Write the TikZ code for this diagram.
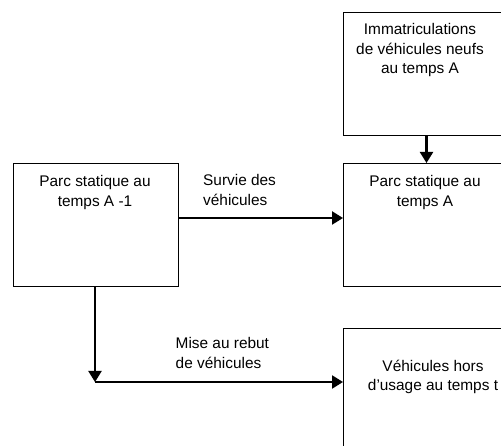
\documentclass[tikz,border=0pt]{standalone}
\usepackage{fontspec}
\setmainfont{Liberation Sans}
\usetikzlibrary{arrows.meta}
\tikzset{
  boxshape/.style={draw, line width=1.4pt, anchor=north west, inner sep=0pt},
  boxtext/.style={font=\fontsize{15.4}{19.8}\selectfont, align=center, inner sep=0pt, anchor=north},
  flowlabel/.style={font=\fontsize{15.4}{19.8}\selectfont, align=left, inner sep=0pt, anchor=north west},
  flow/.style={line width=2.2pt, -{Triangle[width=13pt,length=11pt]}}
}
\begin{document}
\begin{tikzpicture}[x=1pt,y=-1pt]
\useasboundingbox (0,0) rectangle (501,446);
\fill[white] (0,0) rectangle (501,446);
\clip (0,0) rectangle (501,446);
% boxes
\node[boxshape, minimum width=170pt, minimum height=123pt] (imm) at (343,12) {};
\node[boxshape, minimum width=165pt, minimum height=123pt] (pa1) at (13,163) {};
\node[boxshape, minimum width=170pt, minimum height=123pt] (pa) at (343,163) {};
\node[boxshape, minimum width=180pt, minimum height=140pt] (vhu) at (343,328) {};
% box texts
\node[boxtext] (timm) at ([shift={(77,11)}]imm.north west) {Immatriculations\\de véhicules neufs\\au temps A};
\node[boxtext] (tpa1) at ([shift={(82,12)}]pa1.north west) {Parc statique au\\temps A -1};
\node[boxtext] (tpa) at ([shift={(82,12)}]pa.north west) {Parc statique au\\temps A};
\node[boxtext] (tvhu) at ([shift={(90,31.5)}]vhu.north west) {Véhicules hors\\d’usage au temps t};
% connectors
\coordinate (drop) at (426.5,0);
\draw[flow] (imm.south -| drop) -- (pa.north -| drop);
\coordinate (survy) at (0,218);
\draw[flow] (pa1.east |- survy) -- (pa.west |- survy);
\coordinate (corner) at (95,382);
\draw[flow] (pa1.south -| corner) -- (corner);
\draw[flow] (corner) -- (vhu.west |- corner);
% labels
\node[flowlabel] (lsurv) at (203,174) {Survie des\\véhicules};
\node[flowlabel] (lrebut) at (175.5,337) {Mise au rebut\\de véhicules};
\end{tikzpicture}
\end{document}
